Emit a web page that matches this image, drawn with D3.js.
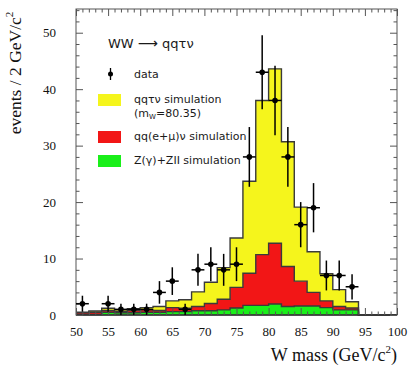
<!DOCTYPE html>
<html>
<head>
<meta charset="utf-8">
<script src="https://cdn.jsdelivr.net/npm/d3@7"></script>
<style>
  body { margin: 0; background: #fff; }
  svg { display: block; }
</style>
</head>
<body>
<svg id="chart" width="415" height="368"></svg>
<script>
"use strict";

// histogram bins, 2 GeV wide, lower edges
const binLow = [50, 52, 54, 56, 58, 60, 62, 64, 66, 68, 70, 72, 74, 76, 78, 80, 82, 84, 86, 88, 90, 92, 94, 96, 98];
const zSim   = [0.1, 0.1, 0.5, 0.4, 0.4, 0.5, 0.5, 0.6, 0.6, 0.75, 0.75, 0.9, 1.25, 1.7, 1.7, 1.95, 1.5, 1.6, 1.6, 1.3, 0.9, 0.9, 0, 0, 0];
const emuSim = [0.3, 0.4, 0.3, 0.2, 0.4, 0.4, 0.3, 0.7, 0.6, 0.75, 1.3, 1.9, 3.65, 5.7, 9.0, 10.75, 7.1, 4.4, 2.4, 1.2, 0.6, 0.35, 0, 0, 0];
const tauSim = [0.1, 0.2, 0.4, 0.3, 0.3, 0.4, 0.7, 1.2, 1.5, 2.6, 3.75, 5.6, 8.75, 16.3, 27.3, 30.9, 22.1, 13.1, 7.2, 4.8, 3.0, 1.1, 0, 0, 0];

// data points (bin centres)
const dataMass  = [51, 55, 57, 59, 61, 63, 65, 67, 69, 71, 73, 75, 77, 79, 81, 83, 85, 87, 89, 91, 93];
const dataCount = [2, 2, 1, 1, 1, 4, 6, 1, 8, 9, 8, 9, 28, 43, 38, 28, 16, 19, 7, 7, 5];

const xMajor = [50, 55, 60, 65, 70, 75, 80, 85, 90, 95, 100];
const yMajor = [0, 10, 20, 30, 40, 50];

const colours = { z: '#1aef1a', emu: '#f21616', tau: '#f5f51c' };

const svg = d3.select('#chart');
const margin = { left: 76, right: 18, top: 9, bottom: 53 };
const W = 415, H = 368;

const x = d3.scaleLinear().domain([50, 100]).range([margin.left, W - margin.right]);
const y = d3.scaleLinear().domain([0, 54.2]).range([H - margin.bottom, margin.top]);

const rows = binLow.map((b, i) => ({ b: b, z: zSim[i], emu: emuSim[i], tau: tauSim[i] }));
// closing point so the last step reaches 100
rows.push({ b: 100, z: 0, emu: 0, tau: 0 });

const stack = d3.stack().keys(['z', 'emu', 'tau'])(rows);

const area = d3.area()
  .curve(d3.curveStepAfter)
  .x(d => x(d.data.b))
  .y0(d => y(d[0]))
  .y1(d => y(d[1]));

const line = d3.line()
  .curve(d3.curveStepAfter)
  .x(d => x(d.data.b))
  .y(d => y(d[1]));

const g = svg.append('g');

g.selectAll('path.layer')
  .data(stack)
  .enter().append('path')
    .attr('class', 'layer')
    .attr('d', area)
    .attr('fill', d => colours[d.key])
    .attr('stroke', 'none');

g.selectAll('path.outline')
  .data(stack)
  .enter().append('path')
    .attr('class', 'outline')
    .attr('d', line)
    .attr('fill', 'none')
    .attr('stroke', '#3a3a3a')
    .attr('stroke-width', 1.4);

// baseline
g.append('line')
  .attr('x1', x(50)).attr('x2', x(100))
  .attr('y1', y(0)).attr('y2', y(0))
  .attr('stroke', '#111').attr('stroke-width', 1.5);

// frame + ticks
const frameCol = '#555';
const minorX = d3.range(50, 101, 1).filter(v => v % 5 !== 0);
const minorY = d3.range(0, 55, 2).filter(v => v % 10 !== 0);

svg.append('g').attr('transform', `translate(0,${y(0)})`)
  .call(d3.axisBottom(x).tickValues(xMajor).tickSize(-7).tickPadding(12).tickFormat(d3.format('d')));
svg.append('g').attr('transform', `translate(0,${y(0)})`)
  .call(d3.axisBottom(x).tickValues(minorX).tickSize(-3.5).tickFormat(''));
svg.append('g').attr('transform', `translate(0,${margin.top})`)
  .call(d3.axisTop(x).tickValues(xMajor).tickSize(-7).tickFormat(''));
svg.append('g').attr('transform', `translate(0,${margin.top})`)
  .call(d3.axisTop(x).tickValues(minorX).tickSize(-3.5).tickFormat(''));

svg.append('g').attr('transform', `translate(${margin.left},0)`)
  .call(d3.axisLeft(y).tickValues(yMajor).tickSize(-7).tickPadding(20).tickFormat(d3.format('d')));
svg.append('g').attr('transform', `translate(${margin.left},0)`)
  .call(d3.axisLeft(y).tickValues(minorY).tickSize(-3.5).tickFormat(''));
svg.append('g').attr('transform', `translate(${W - margin.right},0)`)
  .call(d3.axisRight(y).tickValues(yMajor).tickSize(-7).tickFormat(''));
svg.append('g').attr('transform', `translate(${W - margin.right},0)`)
  .call(d3.axisRight(y).tickValues(minorY).tickSize(-3.5).tickFormat(''));

svg.selectAll('.domain').remove();
svg.selectAll('.tick line').attr('stroke', frameCol);
svg.selectAll('.tick text')
  .attr('font-family', '"Liberation Serif", "Times New Roman", serif')
  .attr('font-size', 13)
  .attr('fill', '#111');

svg.append('rect')
  .attr('x', x(50)).attr('y', margin.top)
  .attr('width', x(100) - x(50)).attr('height', y(0) - margin.top)
  .attr('fill', 'none').attr('stroke', frameCol).attr('stroke-width', 1);

// data points with sqrt(N) errors
const pts = svg.append('g');
dataMass.forEach((m, i) => {
  const n = dataCount[i];
  const e = Math.sqrt(n);
  pts.append('line')
    .attr('x1', x(m)).attr('x2', x(m))
    .attr('y1', y(n + e)).attr('y2', y(Math.max(0, n - e)))
    .attr('stroke', '#000').attr('stroke-width', 1.5);
  pts.append('line')
    .attr('x1', x(m - 1)).attr('x2', x(m + 1))
    .attr('y1', y(n)).attr('y2', y(n))
    .attr('stroke', '#000').attr('stroke-width', 1.5);
  pts.append('circle')
    .attr('cx', x(m)).attr('cy', y(n)).attr('r', 2.8)
    .attr('fill', '#000');
});

// legend
const sans = '"DejaVu Sans", Verdana, sans-serif';
const leg = svg.append('g').attr('font-family', sans).attr('fill', '#1a1a1a');

const t0 = leg.append('text').attr('x', 108).attr('y', 48).attr('font-size', 13);
t0.append('tspan').text('WW ');
t0.append('tspan').text('\u27f6').attr('font-size', 14);
t0.append('tspan').text('  qq\u03c4\u03bd');

leg.append('line').attr('x1', 110.5).attr('x2', 110.5).attr('y1', 68).attr('y2', 80)
  .attr('stroke', '#000').attr('stroke-width', 1.3);
leg.append('circle').attr('cx', 110.5).attr('cy', 74).attr('r', 2.5).attr('fill', '#000');
leg.append('text').attr('x', 134).attr('y', 78).attr('font-size', 11).text('data');

const boxes = [
  { y: 94, col: colours.tau, label: 'qq\u03c4\u03bd simulation' },
  { y: 131, col: colours.emu, label: 'qq(e+\u03bc)\u03bd simulation' },
  { y: 155, col: colours.z, label: 'Z(\u03b3)+ZII simulation' }
];
boxes.forEach(b => {
  leg.append('rect').attr('x', 98).attr('y', b.y).attr('width', 23).attr('height', 12).attr('fill', b.col);
  leg.append('text').attr('x', 134).attr('y', b.y + 9).attr('font-size', 11).text(b.label);
});
const mw = leg.append('text').attr('x', 134).attr('y', 117).attr('font-size', 11);
mw.append('tspan').text('(m');
mw.append('tspan').text('W').attr('font-size', 7).attr('dy', 2);
mw.append('tspan').text('=80.35)').attr('dy', -2);

// axis titles
const serif = '"Liberation Serif", "Times New Roman", serif';
const xt = svg.append('text')
  .attr('x', 397).attr('y', 361)
  .attr('text-anchor', 'end')
  .attr('font-family', serif).attr('font-size', 18).attr('fill', '#111');
xt.append('tspan').text('W mass (GeV/c');
xt.append('tspan').text('2').attr('font-size', 11).attr('dy', -8);
xt.append('tspan').text(')').attr('dy', 8);

const yt = svg.append('text')
  .attr('transform', 'translate(21,73) rotate(-90)')
  .attr('text-anchor', 'middle')
  .attr('font-family', serif).attr('font-size', 17.5).attr('fill', '#111');
yt.append('tspan').text('events / 2 GeV/c');
yt.append('tspan').text('2').attr('font-size', 11).attr('dy', -8);
</script>
</body>
</html>
